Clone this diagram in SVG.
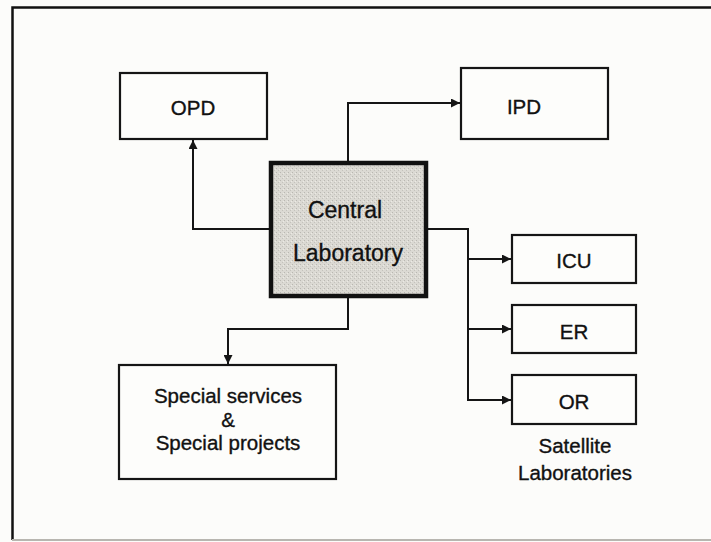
<svg xmlns="http://www.w3.org/2000/svg" width="711" height="542" viewBox="0 0 711 542">
<style>
.box{fill:#fdfdfb;stroke:#151515;stroke-width:2.2}
.lbl{font-family:"Liberation Sans",Arial,sans-serif;font-size:20.5px;fill:#111;stroke:#111;stroke-width:0.35;text-anchor:middle}
.big{font-size:23px}
.conn{fill:none;stroke:#151515;stroke-width:2}
</style>
<defs>
<marker id="ah" viewBox="0 0 10 10" refX="10" refY="5" markerWidth="11" markerHeight="9" markerUnits="userSpaceOnUse" orient="auto">
<path d="M0,0 L10,5 L0,10 Z" fill="#151515"/>
</marker>
<pattern id="stip" width="4" height="4" patternUnits="userSpaceOnUse">
<rect width="4" height="4" fill="#dbd9d3"/>
<rect x="0" y="0" width="1" height="1" fill="#b9b7b1"/>
<rect x="2" y="2" width="1" height="1" fill="#c4c2bc"/>
<rect x="3" y="1" width="1" height="1" fill="#eceae4"/>
</pattern>
</defs>
<rect x="0" y="0" width="711" height="542" fill="#fcfcfa"/>
<g id="frame">
<path d="M720,7.5 L12.5,7.5 L12.5,540" fill="none" stroke="#111" stroke-width="2.5"/>
<line x1="12" y1="540" x2="711" y2="540" stroke="#b8b6b0" stroke-width="2"/>
</g>
<g id="connectors">
<path class="conn" d="M270,229 H193 V140" marker-end="url(#ah)"/>
<path class="conn" d="M348,162 V103 H460" marker-end="url(#ah)"/>
<path class="conn" d="M427,229 H468 V400 H511" marker-end="url(#ah)"/>
<path class="conn" d="M468,259 H511" marker-end="url(#ah)"/>
<path class="conn" d="M468,329 H511" marker-end="url(#ah)"/>
<path class="conn" d="M348,297 V329 H228 V364" marker-end="url(#ah)"/>
</g>
<g id="opd">
<rect class="box" x="120" y="73" width="147" height="66"/>
<text class="lbl" x="193" y="115">OPD</text>
</g>
<g id="ipd">
<rect class="box" x="461" y="68" width="147" height="71"/>
<text class="lbl" x="524" y="114">IPD</text>
</g>
<g id="central">
<rect x="271" y="163" width="155" height="133" fill="url(#stip)" stroke="#111" stroke-width="4.5"/>
<text class="lbl big" x="345" y="218">Central</text>
<text class="lbl big" x="348" y="261">Laboratory</text>
</g>
<g id="icu">
<rect class="box" x="512" y="235" width="124" height="48"/>
<text class="lbl" x="574" y="268">ICU</text>
</g>
<g id="er">
<rect class="box" x="512" y="305" width="124" height="48"/>
<text class="lbl" x="574" y="339">ER</text>
</g>
<g id="or">
<rect class="box" x="512" y="375" width="124" height="49"/>
<text class="lbl" x="574" y="409">OR</text>
</g>
<g id="satellite">
<text class="lbl" x="575" y="453">Satellite</text>
<text class="lbl" x="575" y="480">Laboratories</text>
</g>
<g id="special">
<rect class="box" x="119" y="365" width="217" height="114"/>
<text class="lbl" x="228" y="403">Special services</text>
<text class="lbl" x="228" y="427">&amp;</text>
<text class="lbl" x="228" y="450">Special projects</text>
</g>
</svg>
